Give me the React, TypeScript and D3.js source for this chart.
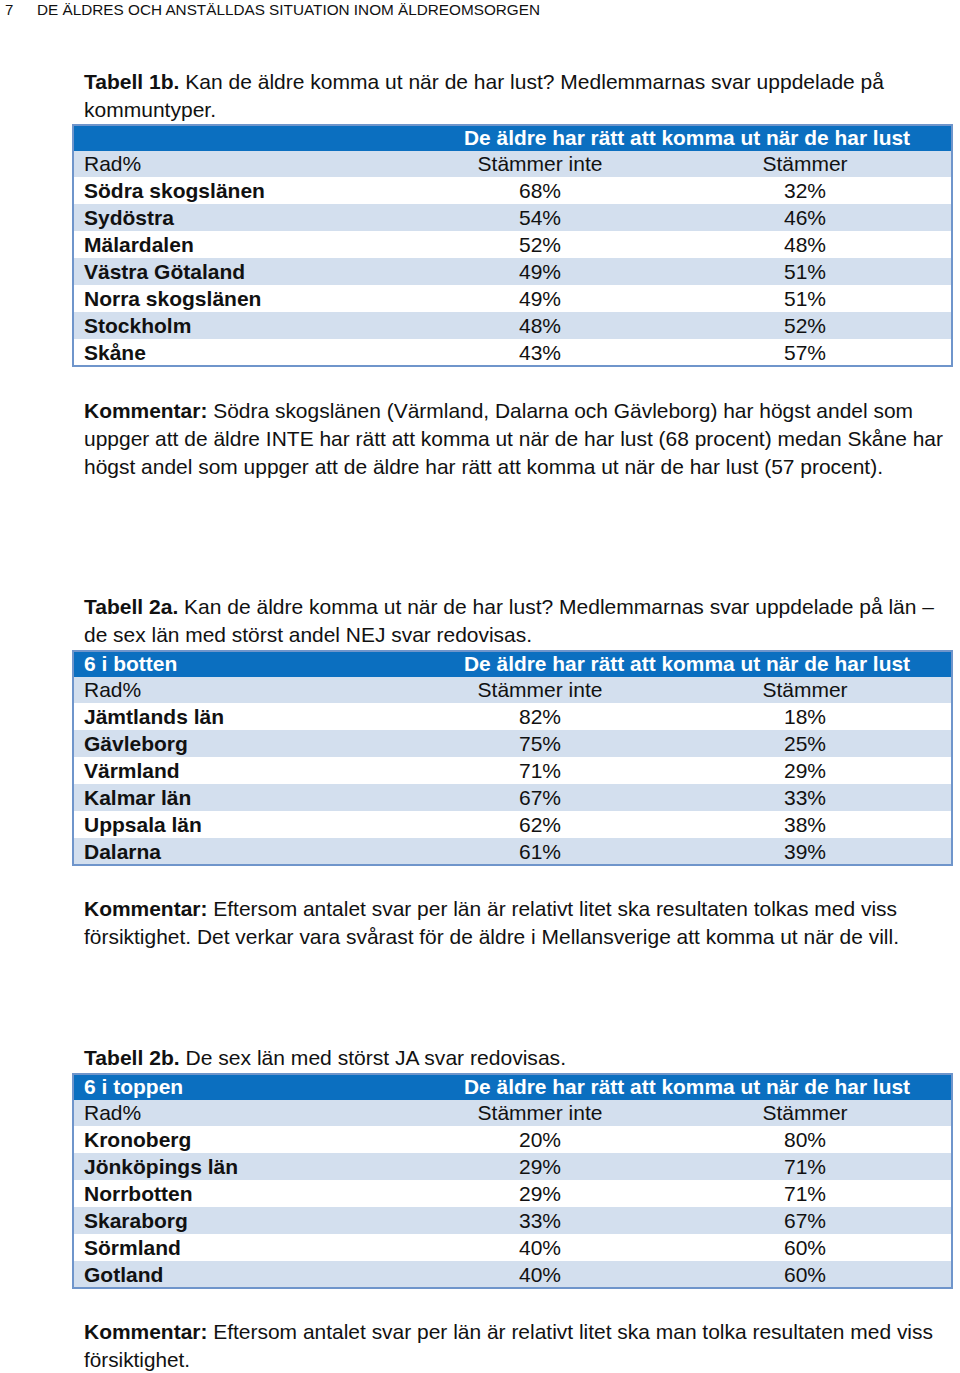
import React, { useEffect } from 'react'
import * as d3 from 'd3'

// page header
const pageNumber = '7'
const pageTitle = 'DE ÄLDRES OCH ANSTÄLLDAS SITUATION INOM ÄLDREOMSORGEN'

// shared table header
const groupTitle = 'De äldre har rätt att komma ut när de har lust'
const subHeader = ['Rad%', 'Stämmer inte', 'Stämmer']

// Tabell 1b
const regions1 = ['Södra skogslänen', 'Sydöstra', 'Mälardalen', 'Västra Götaland', 'Norra skogslänen', 'Stockholm', 'Skåne']
const notAgree1 = [68, 54, 52, 49, 49, 48, 43]
const agree1 = [32, 46, 48, 51, 51, 52, 57]

// Tabell 2a
const regions2a = ['Jämtlands län', 'Gävleborg', 'Värmland', 'Kalmar län', 'Uppsala län', 'Dalarna']
const notAgree2a = [82, 75, 71, 67, 62, 61]
const agree2a = [18, 25, 29, 33, 38, 39]

// Tabell 2b
const regions2b = ['Kronoberg', 'Jönköpings län', 'Norrbotten', 'Skaraborg', 'Sörmland', 'Gotland']
const notAgree2b = [20, 29, 29, 33, 40, 40]
const agree2b = [80, 71, 71, 67, 60, 60]

const tables = [
    {
        top: 125, corner: '',
        titleBold: 'Tabell 1b.', titleLines: [' Kan de äldre komma ut när de har lust? Medlemmarnas svar uppdelade på', 'kommuntyper.'],
        titleY: 81, titleW: [800, 132],
        rows: regions1, no: notAgree1, yes: agree1,
        comment: [' Södra skogslänen (Värmland, Dalarna och Gävleborg) har högst andel som', 'uppger att de äldre INTE har rätt att komma ut när de har lust (68 procent) medan Skåne har', 'högst andel som uppger att de äldre har rätt att komma ut när de har lust (57 procent).'],
        commentY: 410, commentW: [829, 859, 799],
    },
    {
        top: 651, corner: '6 i botten',
        titleBold: 'Tabell 2a.', titleLines: [' Kan de äldre komma ut när de har lust? Medlemmarnas svar uppdelade på län –', 'de sex län med störst andel NEJ svar redovisas.'],
        titleY: 606, titleW: [850, 448],
        rows: regions2a, no: notAgree2a, yes: agree2a,
        comment: [' Eftersom antalet svar per län är relativt litet ska resultaten tolkas med viss', 'försiktighet. Det verkar vara svårast för de äldre i Mellansverige att komma ut när de vill.'],
        commentY: 908, commentW: [813, 815],
    },
    {
        top: 1074, corner: '6 i toppen',
        titleBold: 'Tabell 2b.', titleLines: [' De sex län med störst JA svar redovisas.'],
        titleY: 1057, titleW: [482],
        rows: regions2b, no: notAgree2b, yes: agree2b,
        comment: [' Eftersom antalet svar per län är relativt litet ska man tolka resultaten med viss', 'försiktighet.'],
        commentY: 1331, commentW: [849, 106],
    },
]

const W = 960
const H = 1373
const tableLeft = 73
const tableRight = 952
const headH = 26
const rowH = 27
const font = "'Liberation Sans', Arial, Helvetica, sans-serif"
const blue = '#0B6FC0'
const band = '#D3DFEE'
const border = '#6F95CB'

const colX = d3.scaleOrdinal<string, number>().domain(['label', 'no', 'yes']).range([84, 540, 805])

function TextBlock({ y, bold, lines, widths }: { y: number; bold: string; lines: string[]; widths: number[] }) {
    return (
        <g>
            {lines.map((ln, i) => (
                <text key={i} x={84} y={y + i * 28} dy="0.36em" fontSize={21} fontFamily={font} fill="#111"
                    textLength={widths[i]} lengthAdjust="spacingAndGlyphs">
                    {i === 0 && <tspan fontWeight="bold">{bold}</tspan>}
                    {ln}
                </text>
            ))}
        </g>
    )
}

function Table({ t }: { t: typeof tables[number] }) {
    const bodyTop = t.top + headH * 2
    const y = d3.scaleBand().domain(t.rows).range([bodyTop, bodyTop + rowH * t.rows.length])
    const bottom = bodyTop + rowH * t.rows.length
    return (
        <g>
            <rect x={tableLeft} y={t.top} width={tableRight - tableLeft} height={headH} fill={blue} />
            <rect x={tableLeft} y={t.top + headH} width={tableRight - tableLeft} height={headH} fill={band} />
            {t.rows.map((r, i) => (
                <rect key={r} x={tableLeft} y={y(r)} width={tableRight - tableLeft} height={y.bandwidth()}
                    fill={i % 2 === 1 ? band : '#fff'} />
            ))}
            <rect x={tableLeft} y={t.top} width={tableRight - tableLeft} height={bottom - t.top}
                fill="none" stroke={border} strokeWidth={2} />
            {t.corner && (
                <text x={colX('label')} y={t.top + headH / 2} dy="0.35em" fontSize={21} fontWeight="bold"
                    fontFamily={font} fill="#fff">{t.corner}</text>
            )}
            <text x={464} y={t.top + headH / 2} dy="0.35em" fontSize={21} fontWeight="bold"
                fontFamily={font} fill="#fff" textLength={446} lengthAdjust="spacingAndGlyphs">{groupTitle}</text>
            {subHeader.map((s, i) => (
                <text key={s} x={colX(['label', 'no', 'yes'][i])} y={t.top + headH * 1.5} dy="0.35em"
                    fontSize={21} fontFamily={font} fill="#111" textAnchor={i === 0 ? 'start' : 'middle'}>{s}</text>
            ))}
            {t.rows.map((r, i) => (
                <g key={r}>
                    <text x={colX('label')} y={y(r)! + rowH / 2} dy="0.35em" fontSize={21} fontWeight="bold"
                        fontFamily={font} fill="#111">{r}</text>
                    <text x={colX('no')} y={y(r)! + rowH / 2} dy="0.35em" fontSize={21} textAnchor="middle"
                        fontFamily={font} fill="#111">{d3.format('d')(t.no[i])}%</text>
                    <text x={colX('yes')} y={y(r)! + rowH / 2} dy="0.35em" fontSize={21} textAnchor="middle"
                        fontFamily={font} fill="#111">{d3.format('d')(t.yes[i])}%</text>
                </g>
            ))}
        </g>
    )
}

export default function App() {
    useEffect(() => {
        document.body.style.margin = '0'
    }, [])

    return (
        <svg width={W} height={H} style={{ display: 'block', background: '#fff' }}>
            <text x={5} y={10} dy="0.35em" fontSize={15} fontFamily={font} fill="#111">{pageNumber}</text>
            <text x={37} y={10} dy="0.35em" fontSize={15} fontFamily={font} fill="#111"
                textLength={503} lengthAdjust="spacingAndGlyphs">{pageTitle}</text>
            {tables.map((t, i) => (
                <g key={i}>
                    <TextBlock y={t.titleY} bold={t.titleBold} lines={t.titleLines} widths={t.titleW} />
                    <Table t={t} />
                    <TextBlock y={t.commentY} bold="Kommentar:" lines={t.comment} widths={t.commentW} />
                </g>
            ))}
        </svg>
    )
}
